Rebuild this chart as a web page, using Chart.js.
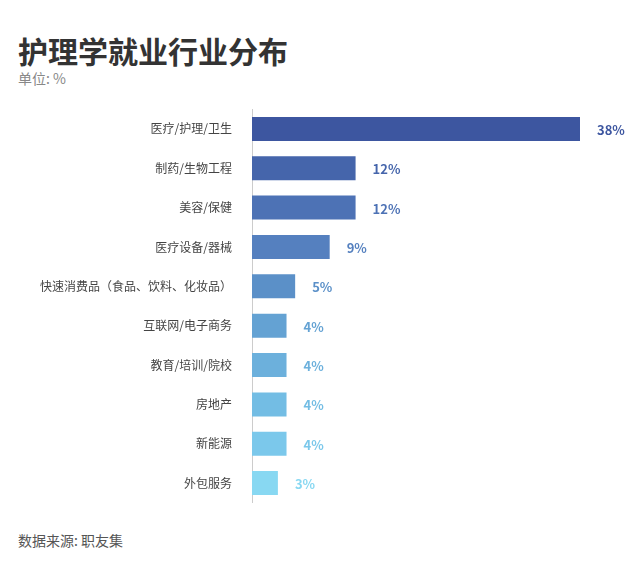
<!DOCTYPE html>
<html>
<head>
<meta charset="utf-8">
<script src="https://cdn.jsdelivr.net/npm/chart.js@4"></script>
<style>
  body { margin: 0; width: 640px; height: 582px; background: #fff; font-family: "Noto Sans CJK SC", "Noto Sans", sans-serif; position: relative; overflow: hidden; }
  h1 { position: absolute; left: 18px; top: 28px; margin: 0; font-size: 30px; font-weight: bold; color: #333; }
  .unit { position: absolute; left: 18px; top: 68px; font-size: 14px; color: #888; }
  .source { position: absolute; left: 18px; top: 530px; font-size: 14px; color: #555; }
  #wrap { position: absolute; left: 0; top: 90px; width: 640px; height: 432px; }
</style>
</head>
<body>
<h1>护理学就业行业分布</h1>
<div class="unit">单位: %</div>
<div id="wrap"><canvas id="grafico"></canvas></div>
<div class="source">数据来源: 职友集</div>
<script>
const industrias = ['医疗/护理/卫生', '制药/生物工程', '美容/保健', '医疗设备/器械', '快速消费品（食品、饮料、化妆品）',
  '互联网/电子商务', '教育/培训/院校', '房地产', '新能源', '外包服务'];
const porcentajes = [38, 12, 12, 9, 5, 4, 4, 4, 4, 3];
const colores = ['#3d56a0', '#4565ab', '#4d72b5', '#5580bf', '#5b90c8', '#64a2d3', '#6cb0dc', '#73bde4', '#7bc8eb', '#88d8f2'];

// etiquetas de valor al final de cada barra
const etiquetas = {
  id: 'etiquetas',
  afterDatasetsDraw(chart) {
    const ctx = chart.ctx;
    const meta = chart.getDatasetMeta(0);
    ctx.save();
    ctx.font = 'bold 13px "Noto Sans CJK SC", sans-serif';
    ctx.textBaseline = 'middle';
    meta.data.forEach((bar, i) => {
      ctx.fillStyle = colores[i];
      ctx.fillText(porcentajes[i] + '%', bar.x + 17, bar.y + 1);
    });
    ctx.restore();
  }
};

new Chart(document.getElementById('grafico'), {
  type: 'bar',
  data: {
    labels: industrias,
    datasets: [{ data: porcentajes, backgroundColor: colores, barPercentage: 0.61, categoryPercentage: 1 }]
  },
  options: {
    indexAxis: 'y',
    responsive: true,
    maintainAspectRatio: false,
    animation: false,
    layout: { padding: { right: 60, top: 0, bottom: 0 } },
    plugins: { legend: { display: false }, tooltip: { enabled: false } },
    scales: {
      x: { display: false, min: 0, max: 38 },
      y: {
        grid: { display: false },
        border: { display: true, color: '#ccc', width: 1 },
        ticks: { color: '#444', font: { size: 12, family: '"Noto Sans CJK SC", sans-serif' }, padding: 12 },
        afterFit: s => { s.width = 252; }
      }
    }
  },
  plugins: [etiquetas]
});
</script>
</body>
</html>
